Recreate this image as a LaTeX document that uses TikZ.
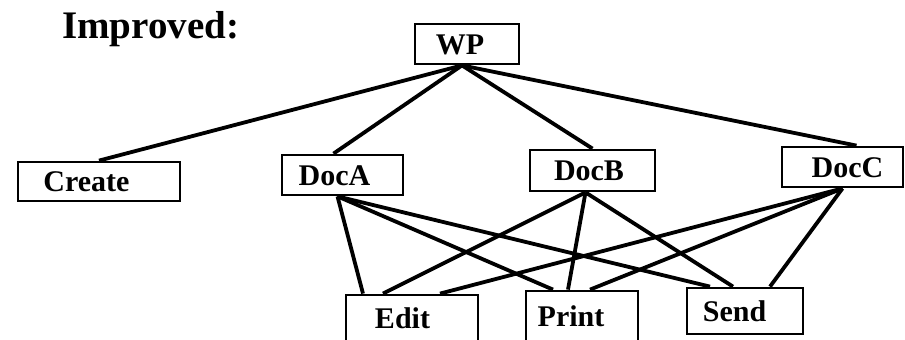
\documentclass[tikz,border=0pt]{standalone}
\usepackage{fontspec}
\setmainfont{Liberation Serif}

\tikzset{
  box/.style={draw, line width=2.8pt, inner sep=0pt, text height=20pt, text depth=0pt,
    font=\fontsize{30}{30}\selectfont\bfseries},
  link/.style={line width=3.8pt}
}

\begin{document}
\begin{tikzpicture}[x=1pt,y=-1pt]
  \clip (0,0) rectangle (905,340);

  % heading
  \node[anchor=base west, inner sep=0pt, font=\fontsize{39}{39}\selectfont\bfseries] (title) at (62,38) {Improved:};

  % root
  \node[box, minimum width=104pt, minimum height=40pt] (wp) at (467,44) {WP\hspace*{14pt}};

  % second level
  \node[box, minimum width=162pt, minimum height=39pt] (create) at (99,181.5) {Create\hspace*{25pt}};
  \node[box, minimum width=121pt, minimum height=40pt] (doca) at (342.5,175) {DocA\hspace*{16pt}};
  \node[box, minimum width=125pt, minimum height=41pt] (docb) at (592.5,170.5) {DocB\hspace*{7pt}};
  \node[box, minimum width=121pt, minimum height=40pt] (docc) at (842.5,167) {\hspace*{10pt}DocC};

  % operations
  \node[box, minimum width=132pt, minimum height=46pt] (edit) at (412,318) {Edit\hspace*{19pt}};
  \node[box, minimum width=112pt, minimum height=50pt] (print) at (582,316) {Print\hspace*{22pt}};
  \node[box, minimum width=116pt, minimum height=46pt] (send) at (745,311) {Send\hspace*{21pt}};

  % root to second level
  \draw[link] ([xshift=-5pt]wp.south) -- (create.north);
  \draw[link] ([xshift=-5pt]wp.south) -- ([xshift=-9pt]doca.north);
  \draw[link] ([xshift=-5pt]wp.south) -- (docb.north);
  \draw[link] ([xshift=-5pt]wp.south) -- ([xshift=14pt]docc.north);

  % documents to operations
  \foreach \n/\dx in {edit/-49, print/-29, send/-35}{
    \draw[link] ([xshift=-5pt]doca.south) -- ([xshift=\dx pt]\n.north);
  }
  \foreach \n/\dx in {edit/-29, print/-14, send/-12}{
    \draw[link] ([xshift=-7pt]docb.south) -- ([xshift=\dx pt]\n.north);
  }
  \foreach \n/\dx in {edit/28, print/8, send/25}{
    \draw[link] (docc.south) -- ([xshift=\dx pt]\n.north);
  }
\end{tikzpicture}
\end{document}
